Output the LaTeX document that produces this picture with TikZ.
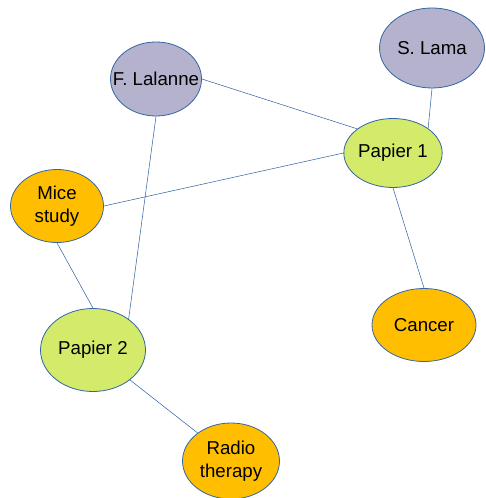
\documentclass[tikz,border=0pt]{standalone}
\usepackage{fontspec}
\setmainfont{Liberation Sans}
\usetikzlibrary{shapes.geometric}
\definecolor{authorgray}{RGB}{180,178,204}
\definecolor{papergreen}{RGB}{212,234,107}
\definecolor{topicorange}{RGB}{255,191,0}
\definecolor{linkblue}{RGB}{52,101,164}
\begin{document}
\begin{tikzpicture}[x=.75pt, y=-.75pt,
    blob/.style 2 args={ellipse, draw=linkblue, line width=.6pt, inner sep=0pt, align=center,
        minimum width=.75*#1pt, minimum height=.75*#2pt, font=\fontsize{14}{17}\selectfont},
    author/.style 2 args={blob={#1}{#2}, fill=authorgray},
    paper/.style 2 args={blob={#1}{#2}, fill=papergreen},
    topic/.style 2 args={blob={#1}{#2}, fill=topicorange}]
    \useasboundingbox (0,0) rectangle (485,498);
% authors
    \node[author={91}{74}] (lalanne) at (156,79) {\makebox[0pt]{F. Lalanne}};
    \node[author={105}{80}] (lama) at (432,48) {S. Lama};
% papers
    \node[paper={96}{69}] (p1) at (393,153) {Papier 1};
    \node[paper={105}{83}] (p2) at (93,350) {Papier 2};
% topics
    \node[topic={93}{73}] (mice) at (57,206) {Mice\\study};
    \node[topic={104}{73}] (cancer) at (424,325) {Cancer};
    \node[topic={97}{76}] (radio) at (231,461) {Radio\\therapy};

    \draw[linkblue] (lalanne.east)--(p1.146);
    \draw[linkblue] (lama.south)--(p1.35);
    \draw[linkblue] (p1.west)--(mice.east);
    \draw[linkblue] (p1.south)--(cancer.north);
    \draw[linkblue] (lalanne.south)--(p2.41);
    \draw[linkblue] (mice.south)--(p2.north);
    \draw[linkblue] (p2.-39)--(radio.140);
    \end{tikzpicture}
\end{document}
